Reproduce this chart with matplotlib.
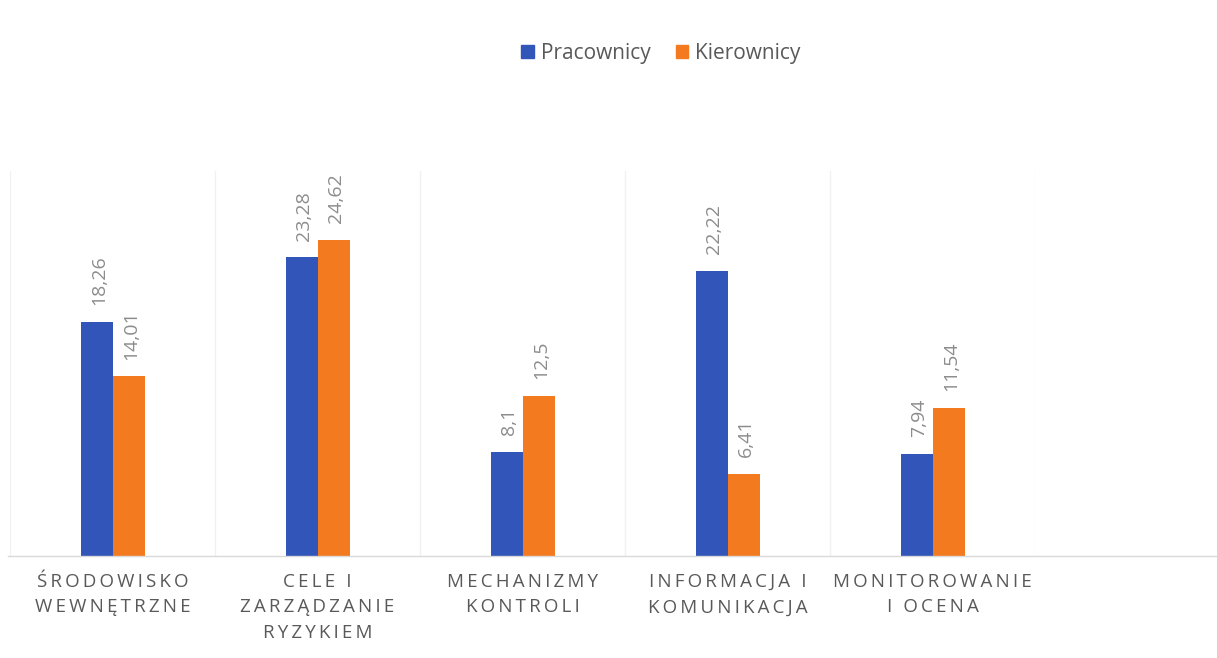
import numpy as np
import matplotlib
matplotlib.use("Agg")
import matplotlib.pyplot as plt
from matplotlib.lines import Line2D
from matplotlib.patches import Patch

categories = [
    ["ŚRODOWISKO", "WEWNĘTRZNE"],
    ["CELE I", "ZARZĄDZANIE", "RYZYKIEM"],
    ["MECHANIZMY", "KONTROLI"],
    ["INFORMACJA I", "KOMUNIKACJA"],
    ["MONITOROWANIE", "I OCENA"],
]
series_names = ["Pracownicy", "Kierownicy"]
pracownicy = [18.26, 23.28, 8.1, 22.22, 7.94]
kierownicy = [14.01, 24.62, 12.5, 6.41, 11.54]

BLUE = "#3155b8"
ORANGE = "#f47a20"
FAM = ["Open Sans", "DejaVu Sans"]
plt.rcParams["font.family"] = FAM

W, H = 1217, 658
fig = plt.figure(figsize=(W / 100, H / 100), dpi=100)
fig.patch.set_facecolor("white")
base_y = 556
top_y = 171
ax = fig.add_axes([10 / W, (H - base_y) / H, 1025 / W, (base_y - top_y) / H])

x = np.arange(len(categories))
w = 32 / 205
b1 = ax.bar(x - w / 2, pracownicy, w, color=BLUE, zorder=3)
b2 = ax.bar(x + w / 2, kierownicy, w, color=ORANGE, zorder=3)

ax.set_xlim(-0.5, len(categories) - 0.5)
ax.set_ylim(0, 30)
for s in ax.spines.values():
    s.set_visible(False)
ax.set_yticks([])

for k in np.arange(-0.5, len(categories), 1.0):
    ax.axvline(k, color="#f1f1f1", lw=1, zorder=1)

def fmt(v):
    return f"{v:g}".replace(".", ",")

for bars, vals in ((b1, pracownicy), (b2, kierownicy)):
    for r, v in zip(bars, vals):
        ax.annotate(fmt(v), (r.get_x() + r.get_width() / 2, v),
                    xytext=(2, 12), textcoords="offset points",
                    rotation=90, ha="center", va="bottom",
                    color="#8c8c8c", fontsize=14, family=FAM)

def spaced(s):
    return "\u2009".join(s)

labels = ["\n".join(spaced(line) for line in c) for c in categories]
ax.set_xticks(x, labels)
ax.tick_params(axis="x", length=0, pad=12, labelcolor="#595959", labelsize=13.5)
for t in ax.get_xticklabels():
    t.set_linespacing(1.55)
    t.set_fontfamily(FAM)

fig.add_artist(Line2D([8 / W, 1.0], [(H - base_y) / H] * 2,
                      transform=fig.transFigure, color="#d9d9d9", lw=1))

handles = [Patch(color=BLUE), Patch(color=ORANGE)]
fig.legend(handles, series_names, loc="center",
           bbox_to_anchor=(661 / W, 1 - 53 / H), ncol=2, frameon=False,
           handlelength=0.6, handleheight=0.6, handletextpad=0.35,
           columnspacing=1.2, fontsize=15, labelcolor="#595959")

fig.savefig("out.png", dpi=100, facecolor="white")
